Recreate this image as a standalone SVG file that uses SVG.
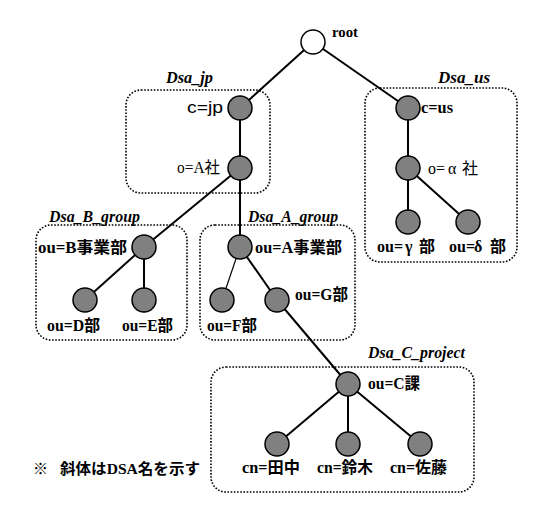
<svg xmlns="http://www.w3.org/2000/svg" width="540" height="510" viewBox="0 0 540 510">
<style>
.box{fill:none;stroke:#000;stroke-width:1.6;stroke-dasharray:1.6 1.6}
.n{fill:#808080;stroke:#000;stroke-width:1.5}
.e{stroke:#000;stroke-width:2;fill:none}
.thin{stroke:#000;stroke-width:1.2;fill:none}
</style>
<rect width="540" height="510" fill="#fff"/>
<g id="domains" font-family="Liberation Serif, serif" font-size="16" font-style="italic" font-weight="bold">
<g id="Dsa_jp"><rect class="box" x="126" y="90" width="144" height="103" rx="15"/><text x="166" y="83" textLength="47" lengthAdjust="spacingAndGlyphs">Dsa_jp</text></g>
<g id="Dsa_us"><rect class="box" x="365" y="88" width="152" height="174" rx="15"/><text x="438" y="83" textLength="52" lengthAdjust="spacingAndGlyphs">Dsa_us</text></g>
<g id="Dsa_B_group"><rect class="box" x="36" y="225" width="151" height="115" rx="15"/><text x="49" y="222" textLength="91" lengthAdjust="spacingAndGlyphs">Dsa_B_group</text></g>
<g id="Dsa_A_group"><rect class="box" x="200" y="225" width="155" height="115" rx="15"/><text x="248" y="222" textLength="90" lengthAdjust="spacingAndGlyphs">Dsa_A_group</text></g>
<g id="Dsa_C_project"><rect class="box" x="211" y="367" width="263" height="125" rx="15"/><text x="368" y="358" textLength="97" lengthAdjust="spacingAndGlyphs">Dsa_C_project</text></g>
</g>
<g id="connectors">
<line class="e" x1="313" y1="42" x2="240" y2="108"/>
<line class="e" x1="313" y1="42" x2="408" y2="108"/>
<line class="e" x1="240" y1="108" x2="240" y2="168"/>
<line class="e" x1="240" y1="168" x2="144" y2="247"/>
<line class="e" x1="240" y1="168" x2="240" y2="247"/>
<line class="e" x1="144" y1="247" x2="85" y2="300"/>
<line class="e" x1="144" y1="247" x2="144" y2="300"/>
<line class="thin" x1="240" y1="247" x2="222" y2="300"/>
<line class="e" x1="240" y1="247" x2="277" y2="300"/>
<line class="e" x1="277" y1="300" x2="348" y2="384"/>
<line class="e" x1="348" y1="384" x2="277" y2="444"/>
<line class="e" x1="348" y1="384" x2="348" y2="444"/>
<line class="e" x1="348" y1="384" x2="420" y2="444"/>
<line class="e" x1="408" y1="108" x2="408" y2="168"/>
<line class="e" x1="408" y1="168" x2="408" y2="222"/>
<line class="e" x1="408" y1="168" x2="468" y2="222"/>
</g>
<g id="nodes" font-family="Liberation Serif, Noto Sans CJK JP, serif" font-size="16" font-weight="bold">
<g id="root"><circle cx="313" cy="42" r="12" fill="#fff" stroke="#000" stroke-width="1.5"/><text x="332" y="37" font-size="14" textLength="26" lengthAdjust="spacingAndGlyphs">root</text></g>
<g id="c_jp"><circle class="n" cx="240" cy="108" r="12"/><text x="187" y="113" font-family="Liberation Sans, sans-serif" font-weight="normal" textLength="36" lengthAdjust="spacingAndGlyphs">c=jp</text></g>
<g id="o_A"><circle class="n" cx="240" cy="168" r="12"/><text x="177" y="173" font-weight="normal" textLength="43" lengthAdjust="spacingAndGlyphs">o=A<tspan font-family="Noto Sans CJK JP, sans-serif">社</tspan></text></g>
<g id="c_us"><circle class="n" cx="408" cy="108" r="12"/><text x="421" y="113" textLength="32" lengthAdjust="spacingAndGlyphs">c=us</text></g>
<g id="o_alpha"><circle class="n" cx="408" cy="168" r="12"/><text x="428" y="174" font-weight="normal">o=<tspan x="448">α</tspan><tspan x="462" font-family="Noto Sans CJK JP, sans-serif">社</tspan></text></g>
<g id="ou_gamma"><circle class="n" cx="408" cy="222" r="12"/><text x="377" y="252">ou=<tspan x="405">γ</tspan><tspan x="419" font-family="Noto Sans CJK JP, sans-serif">部</tspan></text></g>
<g id="ou_delta"><circle class="n" cx="468" cy="222" r="12"/><text x="449" y="252">ou=<tspan x="474">δ</tspan><tspan x="490" font-family="Noto Sans CJK JP, sans-serif">部</tspan></text></g>
<g id="ou_B"><circle class="n" cx="144" cy="247" r="12"/><text x="38" y="253" textLength="89" lengthAdjust="spacingAndGlyphs">ou=B<tspan font-family="Noto Sans CJK JP, sans-serif">事業部</tspan></text></g>
<g id="ou_D"><circle class="n" cx="85" cy="300" r="12"/><text x="47" y="331" textLength="53" lengthAdjust="spacingAndGlyphs">ou=D<tspan font-family="Noto Sans CJK JP, sans-serif">部</tspan></text></g>
<g id="ou_E"><circle class="n" cx="144" cy="300" r="12"/><text x="122" y="331" textLength="51" lengthAdjust="spacingAndGlyphs">ou=E<tspan font-family="Noto Sans CJK JP, sans-serif">部</tspan></text></g>
<g id="ou_A"><circle class="n" cx="240" cy="247" r="12"/><text x="255" y="253" textLength="87" lengthAdjust="spacingAndGlyphs">ou=A<tspan font-family="Noto Sans CJK JP, sans-serif">事業部</tspan></text></g>
<g id="ou_F"><circle class="n" cx="222" cy="300" r="12"/><text x="207" y="331" textLength="50" lengthAdjust="spacingAndGlyphs">ou=F<tspan font-family="Noto Sans CJK JP, sans-serif">部</tspan></text></g>
<g id="ou_G"><circle class="n" cx="277" cy="300" r="12"/><text x="295" y="300" textLength="53" lengthAdjust="spacingAndGlyphs">ou=G<tspan font-family="Noto Sans CJK JP, sans-serif">部</tspan></text></g>
<g id="ou_C"><circle class="n" cx="348" cy="384" r="12"/><text x="368" y="389" textLength="52" lengthAdjust="spacingAndGlyphs">ou=C<tspan font-family="Noto Sans CJK JP, sans-serif">課</tspan></text></g>
<g id="cn_tanaka"><circle class="n" cx="277" cy="444" r="12"/><text x="242" y="473" textLength="58" lengthAdjust="spacingAndGlyphs">cn=<tspan font-family="Noto Sans CJK JP, sans-serif">田中</tspan></text></g>
<g id="cn_suzuki"><circle class="n" cx="348" cy="444" r="12"/><text x="317" y="473" textLength="56" lengthAdjust="spacingAndGlyphs">cn=<tspan font-family="Noto Sans CJK JP, sans-serif">鈴木</tspan></text></g>
<g id="cn_sato"><circle class="n" cx="420" cy="444" r="12"/><text x="390" y="473" textLength="57" lengthAdjust="spacingAndGlyphs">cn=<tspan font-family="Noto Sans CJK JP, sans-serif">佐藤</tspan></text></g>
</g>
<g id="note" font-family="Noto Sans CJK JP, sans-serif" font-size="15" font-weight="bold">
<text x="33" y="474">※</text>
<text x="60" y="474" textLength="140" lengthAdjust="spacingAndGlyphs">斜体は<tspan font-family="Liberation Serif, serif">DSA</tspan>名を示す</text>
</g>
</svg>
